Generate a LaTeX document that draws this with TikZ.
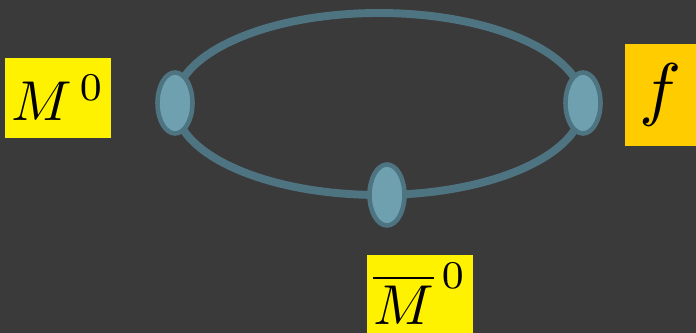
\documentclass[tikz,border=0pt]{standalone}
\usepackage{amsmath, amssymb}
\usepackage{graphicx, xcolor}
\usetikzlibrary{arrows.meta, shapes.geometric}
\definecolor{bgdark}{HTML}{3A3A3A}
\definecolor{ringline}{HTML}{4E7482}
\definecolor{blobfill}{HTML}{6EA0B0}
\definecolor{labgold}{HTML}{FFCC00}
\begin{document}
\begin{tikzpicture}[x=0.02cm, y=-0.02cm, >=Stealth,
    blob/.style={ellipse, draw=ringline, fill=blobfill, line width=2.6pt,
      minimum width=0.7cm, minimum height=1.22cm, inner sep=0pt},
    lab/.style={inner sep=0pt}]
  \fill[bgdark] (0,0) rectangle (696,333);
  \useasboundingbox (0,0) rectangle (696,333);
  \draw[ringline, line width=4.5pt] (379,104) ellipse [x radius=204, y radius=91];
  \node[blob] (left) at (175,103) {};
  \node[blob] (right) at (583,103) {};
  \node[blob] (bottom) at (387,195) {};
  \node[lab, fill=yellow, minimum width=2.12cm, minimum height=1.6cm] (meson) at (58,98) {\scalebox{3.2}{$M^{\,0}$}};
  \node[lab, fill=labgold, minimum width=1.42cm, minimum height=2.04cm] (final) at (660.5,95) {\scalebox{4}{$f$}};
  \node[lab, fill=yellow, minimum width=2.12cm, minimum height=1.58cm] (antimeson) at (420,294) {\scalebox{3.2}{$\overline{M}^{\,0}$}};
\end{tikzpicture}
\end{document}
